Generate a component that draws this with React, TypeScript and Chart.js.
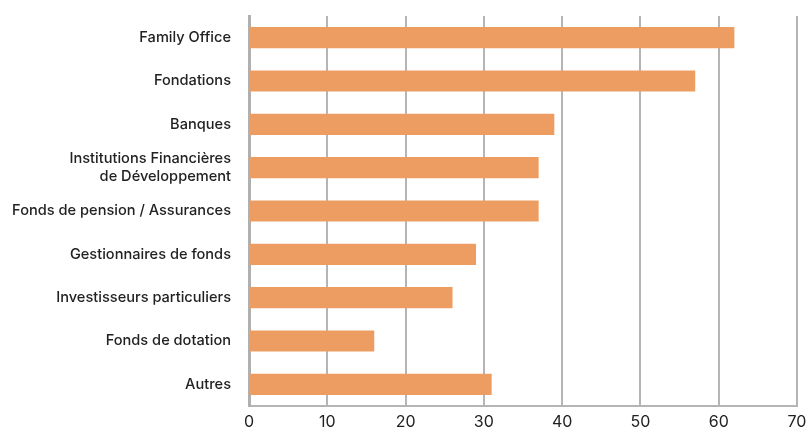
import React, { useEffect, useRef } from "react";
import { Chart, registerables } from "chart.js";

Chart.register(...registerables);

const categories: (string | string[])[] = [
  "Family Office",
  "Fondations",
  "Banques",
  ["Institutions Financières", "de Développement"],
  "Fonds de pension / Assurances",
  "Gestionnaires de fonds",
  "Investisseurs particuliers",
  "Fonds de dotation",
  "Autres",
];
const values: number[] = [62, 57, 39, 37, 37, 29, 26, 16, 31];
const xTicks: number[] = [0, 10, 20, 30, 40, 50, 60, 70];

export default function App() {
  const ref = useRef<HTMLCanvasElement | null>(null);
  useEffect(() => {
    if (!ref.current) return;
    const chart = new Chart(ref.current, {
      type: "bar",
      data: {
        labels: categories,
        datasets: [
          {
            data: values,
            backgroundColor: "#ee9d62",
            borderWidth: 0,
            categoryPercentage: 0.49,
            barPercentage: 1,
          },
        ],
      },
      options: {
        indexAxis: "y",
        animation: false,
        responsive: true,
        maintainAspectRatio: false,
        layout: { padding: { top: 16, right: 11, bottom: 0, left: 0 } },
        plugins: { legend: { display: false }, tooltip: { enabled: false } },
        scales: {
          x: {
            min: 0,
            max: 70,
            afterBuildTicks: (axis: any) => {
              axis.ticks = xTicks.map((v) => ({ value: v }));
            },
            afterFit: (axis: any) => {
              axis.height = 25;
              axis.paddingLeft = 0;
              axis.paddingRight = 0;
            },
            grid: { color: "#b5b5b5", lineWidth: 2, drawTicks: false },
            border: { display: true, color: "#b5b5b5", width: 2 },
            ticks: {
              padding: 7,
              color: "#222",
              font: { family: "Inter", size: 16, weight: "400" },
            },
          },
          y: {
            afterFit: (axis: any) => {
              axis.width = 249;
              axis.paddingTop = 0;
              axis.paddingBottom = 0;
            },
            grid: { display: false, drawTicks: false },
            border: { display: true, color: "#b0b0b0", width: 3 },
            ticks: {
              padding: 18,
              color: "#222",
              font: { family: "Inter", size: 14.6, weight: "500", lineHeight: 1.2 },
            },
          },
        },
      },
    });
    return () => chart.destroy();
  }, []);
  return (
    <div style={{ position: "fixed", left: 0, top: 0, width: 808, height: 431, background: "#fff" }}>
      <canvas ref={ref} />
    </div>
  );
}
